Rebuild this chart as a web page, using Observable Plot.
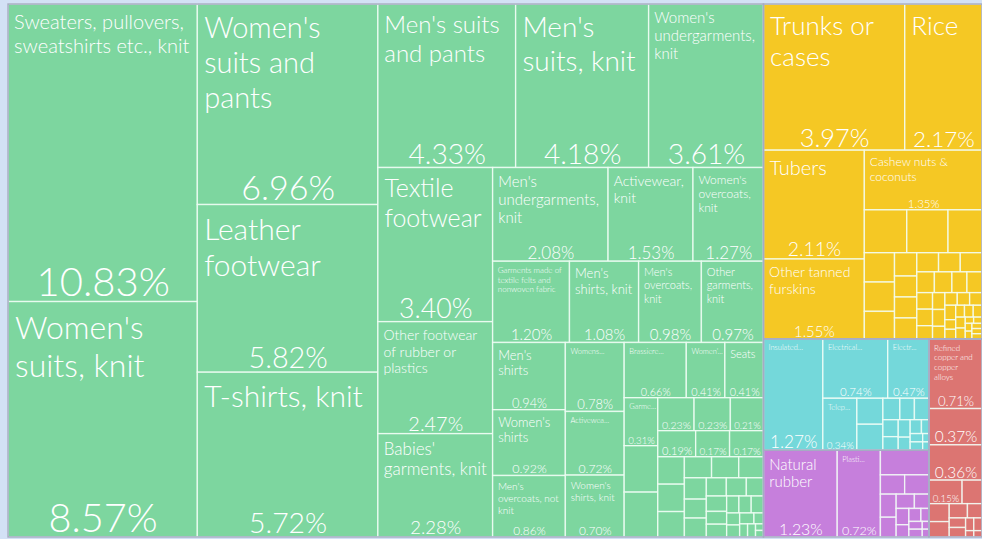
<!DOCTYPE html>
<html><head><meta charset="utf-8">
<script src="https://cdn.jsdelivr.net/npm/d3@7"></script>
<script src="https://cdn.jsdelivr.net/npm/@observablehq/plot@0.6"></script>
<style>
html,body{margin:0;padding:0;background:#d3e1f5;}
#chart{width:982px;height:539px;overflow:hidden;position:relative;background:#d3e1f5;}
</style></head><body><div id="chart"></div>
<script>
// ---- data (shares of exports, %) ----
const sectors = ["Textiles & footwear", "Vegetable & animal products", "Machines", "Plastics & rubbers", "Metals"];
const sectorColors = ["#7dd69f", "#f5c824", "#74d8da", "#c67fdc", "#dc7572"];

// name: string -> title + share shown; "" -> share only; null/missing -> no label
const textileNames = ["Sweaters, pullovers, sweatshirts etc., knit", "Women's suits, knit", "Women's suits and pants", "Leather footwear", "T-shirts, knit",
  "Men's suits and pants", "Men's suits, knit", "Women's undergarments, knit", "Textile footwear", "Other footwear of rubber or plastics",
  "Babies' garments, knit", "Men's undergarments, knit", "Activewear, knit", "Women's overcoats, knit", "Garments made of textile felts and nonwoven fabric",
  "Men's shirts, knit", "Men's overcoats, knit", "Other garments, knit", "Men's shirts", "Women's shirts",
  "Men's overcoats, not knit", "Womens...", "Activewea...", "Women's shirts, knit", "Brassiere...",
  "Women'...", "Seats", "Garme...", null, null, "", "", "", "", "", ""];
const textileShares = [10.83, 8.57, 6.96, 5.82, 5.72, 4.33, 4.18, 3.61, 3.40, 2.47, 2.28, 2.08, 1.53, 1.27, 1.20,
  1.08, 0.98, 0.97, 0.94, 0.92, 0.86, 0.78, 0.72, 0.70, 0.66, 0.41, 0.41, 0.31, 0.30, 0.29, 0.23, 0.23, 0.21, 0.19, 0.17, 0.17,
  0.14, 0.14, 0.13, 0.11, 0.11, 0.10, 0.09, 0.08, 0.08, 0.07, 0.07, 0.06, 0.06, 0.05, 0.05, 0.04, 0.04, 0.04, 0.03, 0.03, 0.03, 0.02, 0.02, 0.02, 0.01, 0.01];

const vegetableNames = ["Trunks or cases", "Rice", "Tubers", "Other tanned furskins", "Cashew nuts & coconuts"];
const vegetableShares = [3.97, 2.17, 2.11, 1.55, 1.35, 0.35, 0.34, 0.28, 0.17, 0.17, 0.16, 0.10, 0.09, 0.09, 0.09, 0.08, 0.08, 0.08,
  0.07, 0.07, 0.06, 0.06, 0.05, 0.05, 0.04, 0.04, 0.04, 0.03, 0.03, 0.03, 0.03, 0.03, 0.02, 0.02, 0.02, 0.02, 0.02,
  0.02, 0.02, 0.01, 0.01, 0.01, 0.01, 0.01, 0.01, 0.01];

const machineNames = ["Insulated...", "Electrical...", "Electr...", "Telep..."];
const machineShares = [1.27, 0.74, 0.47, 0.34, 0.13, 0.13, 0.07, 0.06, 0.06, 0.05, 0.04, 0.04, 0.03, 0.03, 0.02, 0.02, 0.02, 0.01, 0.01];

const plasticNames = ["Natural rubber", "Plasti..."];
const plasticShares = [1.23, 0.72, 0.23, 0.09, 0.09, 0.07, 0.06, 0.05, 0.04, 0.04, 0.03, 0.03, 0.02, 0.02, 0.02, 0.01, 0.01];

const metalNames = ["Refined copper and copper alloys", "", "", ""];
const metalShares = [0.71, 0.37, 0.36, 0.15, 0.09, 0.07, 0.06, 0.05, 0.04, 0.03, 0.03, 0.02, 0.02, 0.01, 0.01];

const groupNames = [textileNames, vegetableNames, machineNames, plasticNames, metalNames];
const groupShares = [textileShares, vegetableShares, machineShares, plasticShares, metalShares];

// ---- layout ----
const W = 974, H = 533;
const root = d3.hierarchy({children: sectors.map((s, i) => ({
    sector: s,
    children: groupShares[i].map((v, j) => ({sector: s, name: groupNames[i][j] ?? null, value: v}))
  }))})
  .sum(d => d.children ? 0 : d.value)
  .sort((a, b) => b.value - a.value);
d3.treemap().tile(d3.treemapSquarify.ratio(1)).size([W, H]).round(false)(root);

const FF = "Lato", FW = 300;
const ctx = document.createElement("canvas").getContext("2d");
function tw(s, fs) { ctx.font = `${FW} ${fs}px ${FF}`; return ctx.measureText(s).width; }
function wrap(text, fs, maxW) {
  const words = text.split(" "); const lines = []; let cur = "";
  for (const w of words) {
    const t = cur ? cur + " " + w : w;
    if (!cur || tw(t, fs) <= maxW) cur = t; else { lines.push(cur); cur = w; }
  }
  if (cur) lines.push(cur);
  return lines;
}
const padX = fs => 4 + 0.08 * fs;

const cells = root.leaves().map(d => ({
  x0: d.x0, x1: d.x1, y0: d.y0, y1: d.y1, sector: d.data.sector, name: d.data.name, value: d.data.value
}));

const titles = [], pcts = [];
for (const c of cells) {
  if (c.name === null) continue;
  const w = c.x1 - c.x0, h = c.y1 - c.y0;
  const pctText = c.value.toFixed(2) + "%";
  const pw = tw(pctText, 1);
  let fp;
  if (c.name) fp = Math.min(40, 0.16 * h + 2, 0.8 * w / pw);
  else fp = Math.min(40, 0.45 * h, 0.8 * w / pw);
  fp = Math.max(fp, 6);
  if (c.name) {
    let fs, lines;
    if (c.name.endsWith("...")) { fs = 7.5; lines = [c.name]; }
    else {
      const L = tw(c.name, 1);
      fs = Math.floor(Math.min(32, 0.17 * h + 2, 0.5 * Math.sqrt(w * h / L)));
      for (; fs > 8; fs--) {
        const aw = w - 2 * padX(fs);
        lines = wrap(c.name, fs, aw);
        const mw = Math.max(...lines.map(l => tw(l, fs)));
        const th = lines.length * fs * 1.2;
        if (mw <= aw && lines.length <= 3 && th <= h - fp * 1.15 - (3 + 0.2 * fs) - 4) break;
      }
      lines = wrap(c.name, fs, w - 2 * padX(fs));
    }
    titles.push({x: c.x0 + padX(fs), y: c.y0 + 3 + 0.2 * fs, text: lines.join("\n"), fs});
  }
  pcts.push({x: (c.x0 + c.x1) / 2, y: c.y1 - 0.12 * fp - 1, text: pctText, fs: fp});
}

const groups = root.children.map(d => ({x0: d.x0, x1: d.x1, y0: d.y0, y1: d.y1}));

const plot = Plot.plot({
  width: 982, height: 539,
  margin: 0,
  style: {background: "#d3e1f5"},
  x: {domain: [0, W], range: [8, 8 + W], axis: null},
  y: {domain: [0, H], range: [4, 4 + H], axis: null},
  color: {domain: sectors, range: sectorColors},
  marks: [
    Plot.rect(cells, {x1: "x0", x2: "x1", y1: "y0", y2: "y1", fill: "sector", stroke: "#f4fff8", strokeOpacity: 0.8, strokeWidth: 1.4, clip: true}),
    Plot.rect(groups, {x1: "x0", x2: "x1", y1: "y0", y2: "y1", fill: "none", stroke: "#a5abc4", strokeWidth: 1.5, clip: true}),
    Plot.text(titles, {x: "x", y: "y", text: "text", fontSize: d => d.fs, textAnchor: "start", lineAnchor: "top", lineHeight: 1.2,
      fill: "white", fontFamily: FF, fontWeight: FW, clip: true}),
    Plot.text(pcts, {x: "x", y: "y", text: "text", fontSize: d => d.fs, textAnchor: "middle", lineAnchor: "bottom",
      fill: "white", fontFamily: FF, fontWeight: FW, clip: true})
  ]
});
document.getElementById("chart").appendChild(plot);
</script></body></html>
